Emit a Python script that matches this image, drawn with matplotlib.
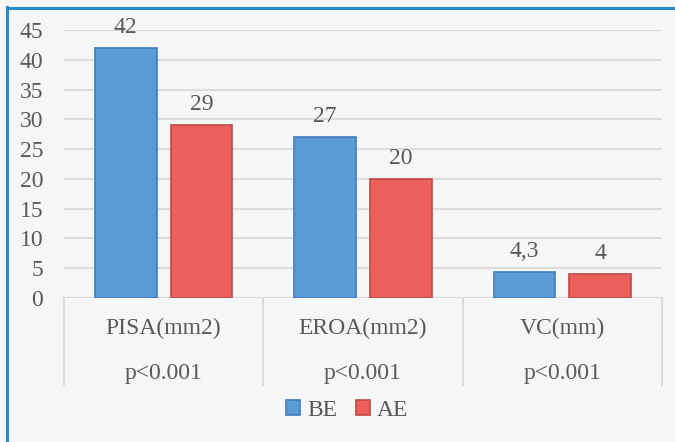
import matplotlib
matplotlib.use("Agg")
import matplotlib.pyplot as plt
import numpy as np

categories = ["PISA(mm2)", "EROA(mm2)", "VC(mm)"]
p_values = ["p<0.001", "p<0.001", "p<0.001"]
be_values = [42, 27, 4.3]
ae_values = [29, 20, 4]
y_ticks = [0, 5, 10, 15, 20, 25, 30, 35, 40, 45]

W, H = 675, 442
bg = "#f5f7f7"
txt = "#595959"
grid_c = "#dcdcdc"

plt.rcParams['font.family'] = ['Liberation Serif', 'DejaVu Serif']

fig = plt.figure(figsize=(W / 100, H / 100), dpi=100, facecolor=bg)

# plot area in pixel coords
left, right, top, bottom = 64, 662, 30, 298
ax = fig.add_axes([left / W, 1 - bottom / H, (right - left) / W, (bottom - top) / H])
ax.set_facecolor(bg)

x = np.arange(len(categories))
off = 0.19
bw = 0.31
b1 = ax.bar(x - off, be_values, bw, color="#5b9bd5", edgecolor="#3f7cbf", linewidth=1.2, label="BE", zorder=3)
b2 = ax.bar(x + off, ae_values, bw, color="#eb605b", edgecolor="#c24844", linewidth=1.2, label="AE", zorder=3)

def fmt(v):
    return f"{v:g}".replace(".", ",")

for bars, vals in [(b1, be_values), (b2, ae_values)]:
    for rect, v in zip(bars, vals):
        ax.annotate(fmt(v), (rect.get_x() + rect.get_width() / 2, v),
                    xytext=(0, 15), textcoords="offset points",
                    ha="center", va="center", fontsize=17, color=txt)

ax.set_xlim(-0.5, 2.5)
ax.set_ylim(0, 45)
ax.set_yticks(y_ticks)
ax.tick_params(axis="y", length=0, pad=15, labelsize=17, labelcolor=txt)
ax.set_xticks([])
for s in ax.spines.values():
    s.set_visible(False)
ax.yaxis.grid(True, color=grid_c, linewidth=1.5, zorder=0)
ax.set_axisbelow(True)

# category table under the axis
tab_bottom = 385
depth = (tab_bottom - bottom) / (bottom - top) * 45
for xb in [-0.5, 0.5, 1.5, 2.5]:
    ax.plot([xb, xb], [0, -depth], color=grid_c, linewidth=1.5, clip_on=False)
for i, (c, p) in enumerate(zip(categories, p_values)):
    ax.text(i, -(328 - bottom) / (bottom - top) * 45, c, ha="center", va="center",
            fontsize=17, color=txt, clip_on=False)
    ax.text(i, -(373 - bottom) / (bottom - top) * 45, p, ha="center", va="center",
            fontsize=17, color=txt, clip_on=False)

fig.legend(handles=[b1, b2], labels=["BE", "AE"], loc="center",
           bbox_to_anchor=(347 / W, 1 - 410 / H), ncol=2, frameon=False,
           fontsize=17, labelcolor=txt, handlelength=0.6, handleheight=0.6,
           handletextpad=0.3, columnspacing=0.8)

# blue frame on left and top
fig.add_artist(plt.Line2D([7 / W, 7 / W], [0, 1 - 7 / H], color="#2a8ad0", linewidth=2.2, transform=fig.transFigure))
fig.add_artist(plt.Line2D([7 / W, 1], [1 - 8 / H, 1 - 8 / H], color="#2a8ad0", linewidth=2.2, transform=fig.transFigure))

fig.savefig("out.png", dpi=100, facecolor=bg)
